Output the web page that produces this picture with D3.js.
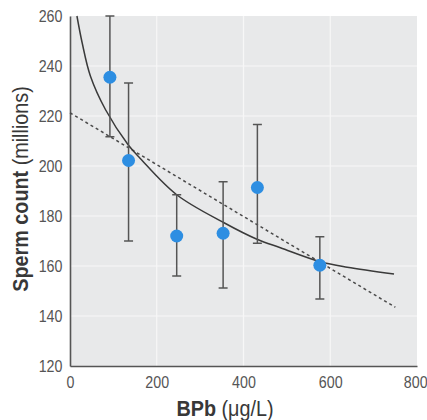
<!DOCTYPE html>
<html>
<head>
<meta charset="utf-8">
<script src="https://cdn.jsdelivr.net/npm/d3@7"></script>
<style>
  body { margin: 0; background: #fff; }
  svg { display: block; }
  .tick-label { font-family: 'Liberation Sans', Arial, sans-serif; font-size: 17px; fill: #555; }
  .axis-title { font-family: 'Liberation Sans', Arial, sans-serif; font-size: 22px; fill: #383838; }
</style>
</head>
<body>
<script>
// measured points: BPb (ug/L), sperm count (millions), error bar ends
const bpb = [92, 135, 246, 353, 432, 576];
const count = [235.5, 202.2, 172, 173.1, 191.4, 160.3];
const errLow = [211.7, 170, 156, 151.2, 169.1, 146.8];
const errHigh = [260, 233.2, 188.5, 193.7, 216.6, 171.7];

// fitted curve
const curveX = [16, 28, 47, 82, 134, 162, 246, 354, 431, 485, 577, 639, 747];
const curveY = [260, 249.3, 236, 222.5, 208.5, 203, 188.5, 177.4, 170.7, 167.3, 161.7, 159.5, 156.8];

// linear fit (dashed)
const lineX = [0, 750];
const lineY = [221.3, 143.5];

const xTicks = [0, 200, 400, 600, 800];
const yTicks = [120, 140, 160, 180, 200, 220, 240, 260];

const w = 427;
const h = 420;
const margin = { top: 16, right: 10, bottom: 54, left: 70 };
const squeeze = 'scale(0.84,1)'; // condensed look
const squeezeTitle = 'scale(0.9,1)';

const svg = d3.select('body').append('svg').attr('width', w).attr('height', h);

const x = d3.scaleLinear().domain([0, 800]).range([margin.left, w - margin.right]);
const y = d3.scaleLinear().domain([120, 260]).range([h - margin.bottom, margin.top]);

// plot background
svg.append('rect')
  .attr('x', x(0))
  .attr('y', y(260))
  .attr('width', x(800) - x(0))
  .attr('height', y(120) - y(260))
  .attr('fill', '#e8e9ea');

// gridlines
svg.append('g')
  .selectAll('line')
  .data(yTicks.slice(1, -1))
  .enter()
  .append('line')
  .attr('x1', x(0)).attr('x2', x(800))
  .attr('y1', d => y(d)).attr('y2', d => y(d))
  .attr('stroke', '#f7f7f7').attr('stroke-width', 1.2);

svg.append('g')
  .selectAll('line')
  .data(xTicks.slice(1, -1))
  .enter()
  .append('line')
  .attr('x1', d => x(d)).attr('x2', d => x(d))
  .attr('y1', y(260)).attr('y2', y(120))
  .attr('stroke', '#f7f7f7').attr('stroke-width', 1.2);

// axes
const xAxis = d3.axisBottom(x).tickValues(xTicks).tickSize(0).tickPadding(10);
const gx = svg.append('g')
  .attr('transform', `translate(0,${y(120)})`)
  .call(xAxis);
gx.select('.domain').attr('stroke', '#555').attr('stroke-width', 1.6);
gx.selectAll('text')
  .attr('class', 'tick-label')
  .attr('dy', '0.72em')
  .attr('transform', squeeze);
// last label sits against the right edge
gx.selectAll('.tick').filter(d => d === 800).select('text')
  .attr('text-anchor', 'end')
  .attr('x', 12);

const yAxis = d3.axisLeft(y).tickValues(yTicks).tickSize(0).tickPadding(9);
const gy = svg.append('g')
  .attr('transform', `translate(${x(0)},0)`)
  .call(yAxis);
gy.select('.domain').attr('stroke', '#555').attr('stroke-width', 1.6);
gy.selectAll('text')
  .attr('class', 'tick-label')
  .attr('transform', squeeze);

// dashed linear fit
svg.append('path')
  .datum(lineX.map((d, i) => [d, lineY[i]]))
  .attr('d', d3.line().x(d => x(d[0])).y(d => y(d[1])))
  .attr('fill', 'none')
  .attr('stroke', '#4a4a4a')
  .attr('stroke-width', 1.5)
  .attr('stroke-dasharray', '3,3');

// curved fit
svg.append('path')
  .datum(curveX.map((d, i) => [d, curveY[i]]))
  .attr('d', d3.line().curve(d3.curveCatmullRom.alpha(0.5)).x(d => x(d[0])).y(d => y(d[1])))
  .attr('fill', 'none')
  .attr('stroke', '#3a3a3a')
  .attr('stroke-width', 1.5);

// error bars
const bars = svg.append('g').attr('stroke', '#555').attr('stroke-width', 1.5);
bpb.forEach((d, i) => {
  bars.append('line')
    .attr('x1', x(d)).attr('x2', x(d))
    .attr('y1', y(errLow[i])).attr('y2', y(errHigh[i]));
  [errLow[i], errHigh[i]].forEach(v => {
    bars.append('line')
      .attr('x1', x(d) - 4.5).attr('x2', x(d) + 4.5)
      .attr('y1', y(v)).attr('y2', y(v));
  });
});

// points
svg.append('g')
  .selectAll('circle')
  .data(bpb)
  .enter()
  .append('circle')
  .attr('cx', d => x(d))
  .attr('cy', (d, i) => y(count[i]))
  .attr('r', 6.5)
  .attr('fill', '#2d8ee2');

// axis titles
const yTitle = svg.append('text')
  .attr('class', 'axis-title')
  .attr('transform', `translate(28,${(y(120) + y(260)) / 2 - 2}) rotate(-90) ${squeezeTitle}`)
  .attr('text-anchor', 'middle');
yTitle.append('tspan').attr('font-weight', 'bold').text('Sperm count');
yTitle.append('tspan').text(' (millions)');

const xTitle = svg.append('text')
  .attr('class', 'axis-title')
  .attr('transform', `translate(225,416) ${squeezeTitle}`)
  .attr('text-anchor', 'middle');
xTitle.append('tspan').attr('font-weight', 'bold').text('BPb');
xTitle.append('tspan').text(' (μg/L)');
</script>
</body>
</html>
